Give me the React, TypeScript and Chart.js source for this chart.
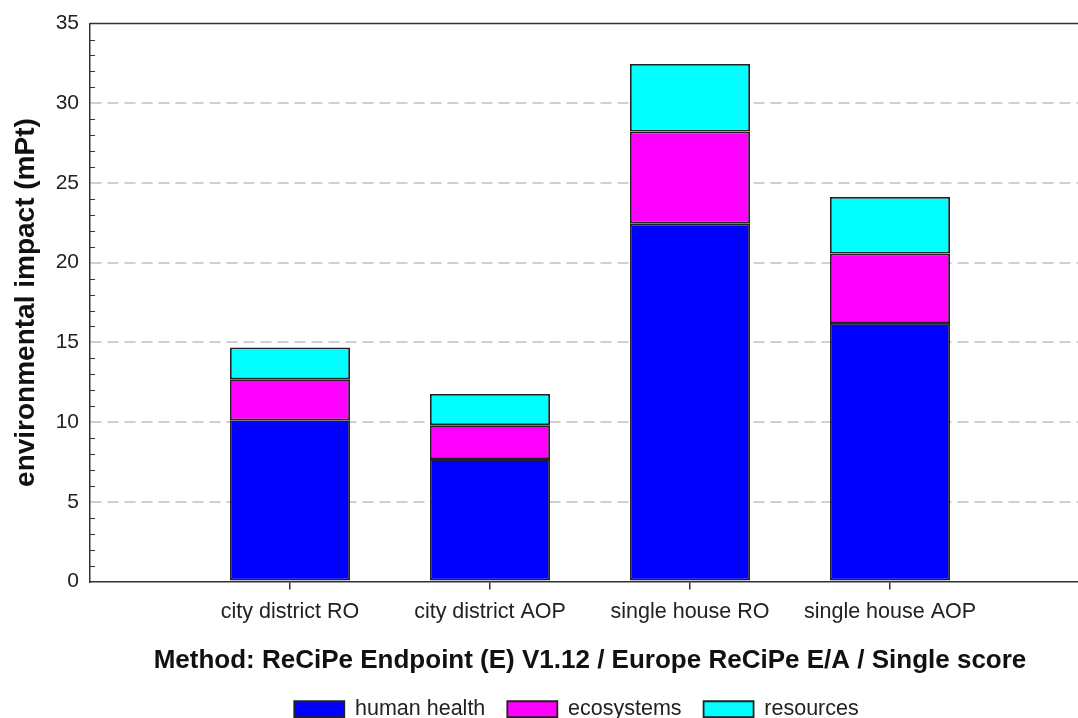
import React, { useEffect, useRef } from "react";
import { Chart, registerables } from "chart.js";

Chart.register(...registerables);

const categories = ["city district RO", "city district AOP", "single house RO", "single house AOP"];
const humanHealth = [10.12, 7.68, 22.45, 16.22];
const ecosystems = [2.57, 2.13, 5.78, 4.35];
const resources = [1.99, 1.96, 4.24, 3.55];
const seriesNames = ["human health", "ecosystems", "resources"];
const seriesColors = ["#0000FF", "#FF00FF", "#00FFFF"];
const yMin = 0;
const yMax = 35;
const yStep = 5;
const yMinorStep = 1;

const FONT = "'Liberation Sans', Arial, sans-serif";
const CANVAS_W = 1153;
const CANVAS_H = 718;

const pad = (arr: number[]) => [null, ...arr, null];

export default function App() {
  const ref = useRef<HTMLCanvasElement | null>(null);

  useEffect(() => {
    if (!ref.current) return;
    const labels = ["", ...categories, ""];
    const seriesData = [humanHealth, ecosystems, resources];

    const frame = {
      id: "frameAndMinor",
      beforeDatasetsDraw(chart: any) {
        const { ctx, chartArea, scales } = chart;
        const y = scales.y;
        ctx.save();
        ctx.strokeStyle = "#333";
        ctx.lineWidth = 1;
        for (let v = yMin + yMinorStep; v < yMax; v += yMinorStep) {
          if (v % yStep === 0) continue;
          const py = Math.round(y.getPixelForValue(v)) + 0.5;
          ctx.beginPath();
          ctx.moveTo(chartArea.left, py);
          ctx.lineTo(chartArea.left + 5, py);
          ctx.stroke();
        }
        ctx.restore();
      },
      afterDraw(chart: any) {
        const { ctx, chartArea } = chart;
        ctx.save();
        ctx.strokeStyle = "#333";
        ctx.lineWidth = 1.5;
        ctx.beginPath();
        ctx.moveTo(chartArea.left, chartArea.top);
        ctx.lineTo(chartArea.right, chartArea.top);
        ctx.stroke();
        ctx.restore();
      },
    };

    const edge = (c: any) => (c.index === 0 || c.index === labels.length - 1 ? "rgba(0,0,0,0)" : "#333");

    const chart = new Chart(ref.current, {
      type: "bar",
      data: {
        labels,
        datasets: seriesData.map((d, i) => ({
          label: seriesNames[i],
          data: pad(d),
          backgroundColor: seriesColors[i],
          borderColor: "#222",
          borderWidth: 1.8,
          borderSkipped: false,
          categoryPercentage: 0.6,
          barPercentage: 1,
        })),
      },
      options: {
        responsive: false,
        animation: false,
        layout: { padding: { top: 23, bottom: -12, left: 0, right: 0 } },
        plugins: {
          legend: {
            position: "bottom",
            labels: {
              boxWidth: 50,
              boxHeight: 16,
              padding: 22,
              color: "#222",
              font: { family: FONT, size: 21.5 },
            },
          },
          tooltip: { enabled: false },
        },
        scales: {
          x: {
            stacked: true,
            offset: false,
            grid: {
              display: true,
              offset: false,
              drawOnChartArea: false,
              drawTicks: true,
              tickLength: 8,
              lineWidth: 1.5,
              color: edge,
              tickColor: edge,
            },
            border: { display: true, color: "#333", width: 1.5 },
            ticks: {
              color: "#222",
              padding: 10,
              maxRotation: 0,
              autoSkip: false,
              font: { family: FONT, size: 21.5 },
            },
            title: {
              display: true,
              text: "Method: ReCiPe Endpoint (E) V1.12 / Europe ReCiPe E/A / Single score",
              color: "#111",
              font: { family: FONT, size: 26, weight: "bold" },
              padding: { top: 10, bottom: 0 },
            },
          },
          y: {
            stacked: true,
            min: yMin,
            max: yMax,
            afterFit: (s: any) => {
              s.width = 90;
            },
            ticks: {
              stepSize: yStep,
              color: "#222",
              padding: 11,
              font: { family: FONT, size: 21 },
            },
            grid: {
              drawTicks: false,
              lineWidth: 2,
              color: (c: any) =>
                c.tick && (c.tick.value === yMin || c.tick.value === yMax) ? "rgba(0,0,0,0)" : "#d0d0d0",
            },
            border: { display: true, color: "#333", width: 1.5, dash: [11, 6] },
            title: {
              display: true,
              text: "environmental impact (mPt)",
              color: "#111",
              font: { family: FONT, size: 28, weight: "bold" },
              padding: { top: 9, bottom: 0 },
            },
          },
          yr: {
            type: "linear",
            position: "right",
            display: true,
            grid: { display: false, drawTicks: false },
            ticks: { display: false },
            border: { display: false },
            afterFit: (s: any) => {
              s.width = 63;
            },
          },
        },
      } as any,
      plugins: [frame],
    } as any);

    return () => chart.destroy();
  }, []);

  return (
    <div
      style={{
        position: "fixed",
        left: 0,
        top: 0,
        width: 1078,
        height: 718,
        overflow: "hidden",
        background: "#fff",
      }}
    >
      <canvas ref={ref} width={CANVAS_W} height={CANVAS_H} style={{ width: CANVAS_W, height: CANVAS_H, display: "block" }} />
    </div>
  );
}
